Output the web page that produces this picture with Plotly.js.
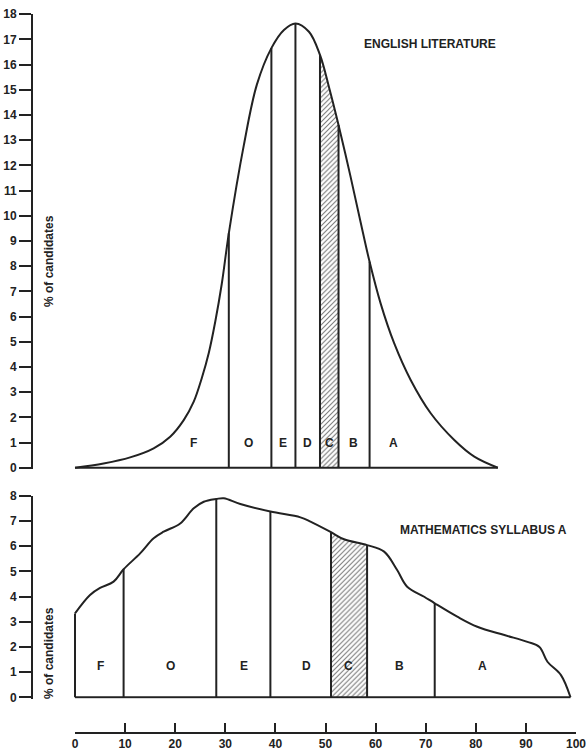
<!DOCTYPE html>
<html><head><meta charset="utf-8">
<script src="https://cdn.plot.ly/plotly-3.0.1.min.js"></script>
<style>html,body{margin:0;padding:0;background:#fff}</style>
</head><body><div id="chart" style="width:586px;height:750px"></div>
<script>
// ENGLISH LITERATURE distribution (mark vs % of candidates)
const engX = [0, 5.7, 11, 15.7, 19, 21.7, 23.7, 25.3, 26.7, 28, 29.3, 30.7, 33.7, 36.3, 39.2, 41.7, 44.0, 46.7, 48.9, 50.7, 52.6, 55, 57, 58.8, 61, 63.7, 67, 71, 75.7, 79.7, 84.4];
const engY = [0, 0.17, 0.41, 0.77, 1.23, 1.89, 2.62, 3.55, 4.55, 5.8, 7.3, 9.3, 12.8, 15.2, 16.65, 17.37, 17.63, 17.3, 16.38, 15.1, 13.6, 11.55, 9.75, 8.17, 6.52, 4.94, 3.48, 2.16, 1.1, 0.44, 0];
const engBounds = [30.7, 39.2, 44.0, 48.9, 52.6, 58.8];
const engCRange = [48.9, 52.6];
const engGrades = ['F', 'O', 'E', 'D', 'C', 'B', 'A'];
const engGradeX = [23.7, 34.7, 41.5, 46.4, 50.7, 55.6, 63.5];

// MATHEMATICS SYLLABUS A distribution
const mathX = [0, 3, 5, 7.7, 9.7, 13, 15.7, 17.7, 21, 23.7, 25.7, 28.2, 29.7, 33, 39, 45, 47, 51.1, 53.7, 58.3, 61.7, 64.3, 66.3, 69.7, 71.8, 76.3, 80.3, 85.7, 90.3, 92.7, 94.3, 97, 98.9];
const mathY = [3.33, 4.06, 4.34, 4.59, 5.08, 5.71, 6.31, 6.57, 6.9, 7.5, 7.76, 7.87, 7.9, 7.67, 7.37, 7.14, 6.97, 6.55, 6.27, 6.04, 5.78, 5.05, 4.39, 3.99, 3.73, 3.2, 2.8, 2.47, 2.2, 2.0, 1.41, 0.88, 0];
const mathBounds = [0, 9.7, 28.2, 39, 51.1, 58.3, 71.8];
const mathCRange = [51.1, 58.3];
const mathGrades = ['F', 'O', 'E', 'D', 'C', 'B', 'A'];
const mathGradeX = [5, 19, 33.7, 46.2, 54.5, 64.7, 81.3];

const xTicks = [0, 10, 20, 30, 40, 50, 60, 70, 80, 90, 100];

const INK = '#222';
const FONT = 'Liberation Sans, Arial, Helvetica, sans-serif';

function valueAt(xs, ys, x) { return ys[xs.indexOf(x)]; }
function verticals(xs, ys, bounds) {
  const vx = [], vy = [];
  bounds.forEach(b => { vx.push(b, b, null); vy.push(0, valueAt(xs, ys, b), null); });
  return {x: vx, y: vy};
}
function slice(xs, ys, r) {
  const sx = [], sy = [];
  xs.forEach((x, i) => { if (x >= r[0] && x <= r[1]) { sx.push(x); sy.push(ys[i]); } });
  return {x: sx, y: sy};
}

function panel(xs, ys, bounds, cRange, xa, ya) {
  const c = slice(xs, ys, cRange);
  const v = verticals(xs, ys, bounds);
  return [
    {x: c.x, y: c.y, xaxis: xa, yaxis: ya, type: 'scatter', mode: 'lines', fill: 'tozeroy',
     line: {width: 0, shape: 'spline'}, fillcolor: 'rgba(0,0,0,0)',
     fillpattern: {shape: '/', size: 3.5, solidity: 0.3, fgcolor: '#777', bgcolor: '#fff'}, hoverinfo: 'skip'},
    {x: xs, y: ys, xaxis: xa, yaxis: ya, type: 'scatter', mode: 'lines',
     line: {color: INK, width: 2, shape: 'spline', smoothing: 1}, hoverinfo: 'skip'},
    {x: [xs[0], xs[xs.length - 1]], y: [0, 0], xaxis: xa, yaxis: ya, type: 'scatter', mode: 'lines',
     line: {color: INK, width: 2}, hoverinfo: 'skip'},
    {x: v.x, y: v.y, xaxis: xa, yaxis: ya, type: 'scatter', mode: 'lines',
     line: {color: INK, width: 2}, hoverinfo: 'skip'}
  ];
}

const data = [].concat(
  panel(engX, engY, engBounds, engCRange, 'x', 'y'),
  panel(mathX, mathY, mathBounds, mathCRange, 'x2', 'y2'),
  [{x: [xTicks[0], xTicks[xTicks.length - 1]], y: [null, null], xaxis: 'x3', yaxis: 'y3',
    type: 'scatter', mode: 'lines', hoverinfo: 'skip'}]
);

// geometry (pixels)
const W = 586, H = 750, mL = 33, mR = 10, mT = 14, mB = 18;
const plotW = W - mL - mR, plotH = H - mT - mB;
const px0 = 75; // pixel of mark 0
const pxPerUnit = (W - mR - px0) / 100;
const xMin = -(px0 - mL) / pxPerUnit;
function yDom(pxZero, pxPerVal, lo, hi) {
  const bottom = pxZero - lo * pxPerVal, top = pxZero - hi * pxPerVal;
  return [(H - mB - bottom) / plotH, Math.min(1, (H - mB - top) / plotH)];
}
const yPer = 25.2;

const yAxisCommon = {
  showgrid: false, zeroline: false, showline: true, linecolor: INK, linewidth: 2,
  ticks: 'outside', ticklen: 12, tickwidth: 2, tickcolor: INK, dtick: 1,
  tickfont: {family: FONT, size: 12, color: INK, weight: 700}, fixedrange: true
};

function gradeAnn(grades, xs, y, xr, yr) {
  return grades.map((g, i) => ({x: xs[i], y: y, xref: xr, yref: yr, text: g, showarrow: false,
    xanchor: 'center', yanchor: 'middle',
    font: {family: FONT, size: 12, color: INK, weight: 700}}));
}

const annotations = [].concat(
  gradeAnn(engGrades, engGradeX, 1.0, 'x', 'y'),
  gradeAnn(mathGrades, mathGradeX, 1.24, 'x2', 'y2'),
  [
    {x: 70.9, y: 16.8, xref: 'x', yref: 'y', text: 'ENGLISH LITERATURE', showarrow: false,
     xanchor: 'center', yanchor: 'middle', font: {family: FONT, size: 12, color: INK, weight: 700}},
    {x: 81.6, y: 6.64, xref: 'x2', yref: 'y2', text: 'MATHEMATICS SYLLABUS A', showarrow: false,
     xanchor: 'center', yanchor: 'middle', font: {family: FONT, size: 12, color: INK, weight: 700}},
    {x: (49 - mL) / plotW, y: (H - mB - 261) / plotH, xref: 'paper', yref: 'paper', text: '% of candidates',
     xanchor: 'center', yanchor: 'middle',
     textangle: -90, showarrow: false, font: {family: FONT, size: 12, color: INK, weight: 700}},
    {x: (49 - mL) / plotW, y: (H - mB - 653) / plotH, xref: 'paper', yref: 'paper', text: '% of candidates',
     xanchor: 'center', yanchor: 'middle',
     textangle: -90, showarrow: false, font: {family: FONT, size: 12, color: INK, weight: 700}}
  ]
);

const layout = {
  width: W, height: H, margin: {l: mL, r: mR, t: mT, b: mB},
  paper_bgcolor: '#fff', plot_bgcolor: 'rgba(0,0,0,0)', showlegend: false,
  xaxis: {domain: [0, 1], range: [xMin, 100], visible: false, fixedrange: true},
  xaxis2: {domain: [0, 1], range: [xMin, 100], visible: false, fixedrange: true, anchor: 'y2'},
  xaxis3: {domain: [(px0 - mL) / plotW, 1], range: [0, 100], anchor: 'y3',
    showgrid: false, zeroline: false, showline: true, linecolor: INK, linewidth: 2,
    ticks: 'inside', ticklen: 9, tickwidth: 2, tickcolor: INK, tickvals: xTicks, ticklabelstandoff: 0,
    ticklabeloverflow: 'allow',
    tickfont: {family: FONT, size: 12, color: INK, weight: 700}, fixedrange: true},
  yaxis: Object.assign({}, yAxisCommon, {domain: yDom(467.7, yPer, -0.06, 18), range: [-0.06, 18], anchor: 'x'}),
  yaxis2: Object.assign({}, yAxisCommon, {domain: yDom(697.3, yPer, -0.06, 8), range: [-0.06, 8], anchor: 'x2'}),
  yaxis3: {domain: [0, 0.01], range: [0, 1], visible: false, anchor: 'x3', fixedrange: true},
  annotations: annotations
};

Plotly.newPlot('chart', data, layout, {displayModeBar: false, staticPlot: true});
</script></body></html>
